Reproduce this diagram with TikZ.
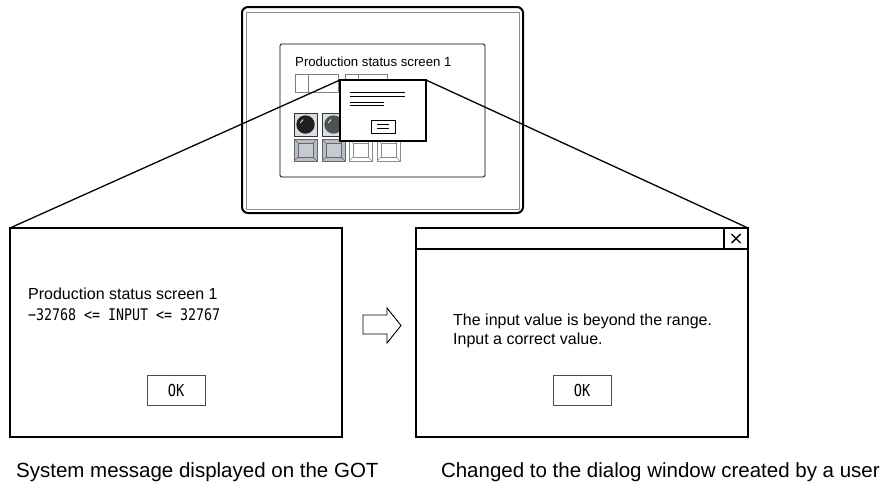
\documentclass[tikz,border=0pt]{standalone}
\usepackage{fontspec}
\setmainfont{Liberation Sans}
\newfontfamily\gothic{DejaVu Sans Mono}[FakeStretch=0.83]
\definecolor{lampbg}{HTML}{DADEE2}
\definecolor{lampA}{HTML}{1E1E1E}
\definecolor{lampB}{HTML}{4A5252}
\definecolor{btnfill}{HTML}{B9BEC6}
\definecolor{btnin}{HTML}{C6CAD1}
\begin{document}
\begin{tikzpicture}[x=1pt,y=-1pt,
  panel/.style={draw, line width=1.8pt, inner sep=0pt, outer sep=0pt, minimum width=332pt, minimum height=209pt},
  okbtn/.style={draw=black!70, line width=0.8pt, inner sep=0pt, outer sep=0pt, minimum width=58pt, minimum height=30pt, font=\gothic\fontsize{16.5}{19}\selectfont},
  txt/.style={anchor=base west, inner sep=0pt, font=\fontsize{16}{19}\selectfont},
  captxt/.style={inner sep=0pt, font=\fontsize{20.5}{24}\selectfont},
  smallbox/.style={draw=black!50, line width=0.7pt},
  zoomline/.style={line width=1.3pt}]
\useasboundingbox (0,0) rectangle (885,483);

% ---- device ----
\node[draw, line width=2pt, rounded corners=6pt, inner sep=0pt, outer sep=0pt,
      minimum width=281pt, minimum height=206pt] (dev) at (382.5,110) {};
\draw[black!45, line width=0.8pt] (246,12) rectangle (519,209);
\node[draw, line width=0.8pt, rounded corners=1.5pt, inner sep=0pt, outer sep=0pt,
      minimum width=205pt, minimum height=133pt] (scr) at (382.5,110.5) {};
\node[anchor=base west, inner sep=0pt, font=\fontsize{13.2}{15}\selectfont] (st) at (295,66) {Production status screen 1};

% small input boxes
\draw[smallbox] (295,74) rectangle (308,92);
\draw[smallbox] (308,74) rectangle (338,92);
\draw[smallbox] (345,74) rectangle (358,92);
\draw[smallbox] (358,74) rectangle (387,92);

% lamps
\foreach \xo/\col in {294/lampA, 322/lampB}{
  \draw[fill=lampbg, draw=black!80, line width=0.9pt] (\xo,113) rectangle (\xo+23,136);
  \fill[\col] (\xo+11.5,124.5) circle (9.2);
  \draw[white, line width=0.8pt] ([shift={(200:5.5)}]\xo+11.5,124.5) arc[start angle=200, end angle=245, radius=5.5];
}
% push buttons
\foreach \xo in {294,322}{
  \draw[fill=btnfill, draw=black!60, line width=0.7pt] (\xo,139) rectangle (\xo+23,161);
  \draw[fill=btnin, draw=black!60, line width=0.6pt] (\xo+4,143) rectangle (\xo+19,157);
  \draw[black!60, line width=0.6pt] (\xo,139) -- (\xo+4,143) (\xo+23,139) -- (\xo+19,143)
        (\xo,161) -- (\xo+4,157) (\xo+23,161) -- (\xo+19,157);
}
\foreach \xo in {349,377}{
  \draw[fill=white, draw=black!45, line width=0.7pt] (\xo,139) rectangle (\xo+23,161);
  \draw[draw=black!45, line width=0.6pt] (\xo+4,143) rectangle (\xo+19,157);
  \draw[black!45, line width=0.6pt] (\xo,139) -- (\xo+4,143) (\xo+23,139) -- (\xo+19,143)
        (\xo,161) -- (\xo+4,157) (\xo+23,161) -- (\xo+19,157);
}

% popup
\node[draw, fill=white, line width=1.2pt, inner sep=0pt, outer sep=0pt,
      minimum width=86pt, minimum height=61pt] (pop) at (383,110.5) {};
\draw[line width=1pt] (350,92.3) -- (405,92.3) (350,96.3) -- (405,96.3)
      (350,102) -- (384,102) (350,105.7) -- (384,105.7);
\node[draw, line width=1pt, inner sep=0pt, outer sep=0pt, minimum width=24pt, minimum height=13pt] (pbtn) at (383,126.5) {};
\draw[line width=0.9pt] (377,124.3) -- (389,124.3) (377,128.3) -- (389,128.3);

% ---- left panel ----
\node[panel] (lp) at (176,332.5) {};
\node[txt] (l1) at (28,299) {Production status screen 1};
\node[txt, font=\gothic\fontsize{16}{19}\selectfont] (l2) at (28,320) {−32768 <= INPUT <= 32767};
\node[okbtn] (lok) at (176,390) {OK};

% ---- arrow ----
\draw[line width=0.9pt, fill=white] (363,315) -- (387,315) -- (387,308) -- (401,325.5) -- (387,343) -- (387,334) -- (363,334) -- cycle;

% ---- right panel ----
\node[panel] (rp) at (582,332.5) {};
\draw[line width=1.6pt] (416,249) -- (748,249);
\draw[line width=1.6pt] (724,228) -- (724,249);
\draw[line width=1.4pt] (731.5,234) -- (740.5,243) (740.5,234) -- (731.5,243);
\node[txt] (r1) at (453,325) {The input value is beyond the range.};
\node[txt] (r2) at (453,344) {Input a correct value.};
\node[okbtn] (rok) at (582,390) {OK};

% zoom lines
\draw[zoomline] (pop.north west) -- (lp.north west);
\draw[zoomline] (pop.north east) -- (rp.north east);

% captions
\node[captxt, anchor=base west] (c1) at (16,477) {System message displayed on the GOT};
\node[captxt, anchor=base east] (c2) at (880,477) {Changed to the dialog window created by a user};
\end{tikzpicture}
\end{document}
